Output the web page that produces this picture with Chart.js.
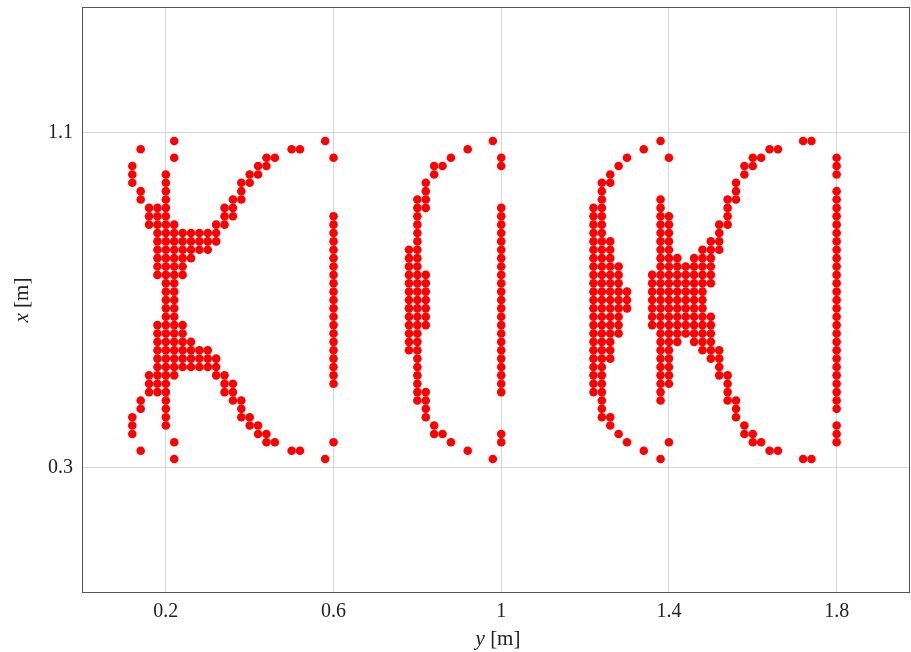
<!DOCTYPE html>
<html>
<head>
<meta charset="utf-8">
<script src="https://cdn.jsdelivr.net/npm/chart.js@4.4.1/dist/chart.umd.min.js"></script>
<style>
  html, body { margin: 0; padding: 0; background: #fff; overflow: hidden; }
  canvas { display: block; }
</style>
</head>
<body>
<canvas id="chart" width="911" height="652"></canvas>
<script>
// grid of points, values in cm: one x per column, the y values of that column
const leftX = [12, 14, 16, 18, 20, 22, 24, 26, 28, 30, 32, 34, 36, 38, 40, 42, 44, 46, 50, 52, 58, 60];
const leftY = [
    [102, 100, 98, 42, 40, 38],
    [106, 96, 94, 46, 44, 34],
    [92, 90, 88, 52, 50, 48],
    [92, 90, 88, 86, 84, 82, 80, 78, 76, 64, 62, 60, 58, 56, 54, 52, 50, 48],
    [100, 98, 96, 94, 92, 90, 88, 86, 84, 82, 80, 78, 76, 74, 72, 70, 68, 66, 64, 62, 60, 58, 56, 54, 52, 50, 48, 46, 44, 42, 40],
    [108, 104, 88, 86, 84, 82, 80, 78, 76, 74, 72, 70, 68, 66, 64, 62, 60, 58, 56, 54, 52, 36, 32],
    [86, 84, 82, 80, 78, 76, 64, 62, 60, 58, 56, 54],
    [86, 84, 82, 80, 60, 58, 56, 54],
    [86, 84, 82, 58, 56, 54],
    [86, 84, 82, 58, 56, 54],
    [88, 86, 84, 56, 54, 52],
    [92, 90, 88, 52, 50, 48],
    [94, 92, 90, 50, 48, 46],
    [98, 96, 94, 46, 44, 42],
    [100, 98, 42, 40],
    [102, 100, 40, 38],
    [104, 102, 38, 36],
    [104, 36],
    [106, 34],
    [106, 34],
    [108, 32],
    [104, 90, 88, 86, 84, 82, 80, 78, 76, 74, 72, 70, 68, 66, 64, 62, 60, 58, 56, 54, 52, 50, 36]
];

const midX = [78, 80, 82, 84, 86, 88, 92, 98, 100];
const midY = [
    [82, 80, 78, 76, 74, 72, 70, 68, 66, 64, 62, 60, 58],
    [94, 92, 90, 88, 86, 84, 82, 80, 78, 76, 74, 72, 70, 68, 66, 64, 62, 60, 58, 56, 54, 52, 50, 48, 46],
    [98, 96, 94, 92, 76, 74, 72, 70, 68, 66, 64, 48, 46, 44, 42],
    [102, 100, 40, 38],
    [102, 38],
    [104, 36],
    [106, 34],
    [108, 32],
    [104, 102, 92, 90, 88, 86, 84, 82, 80, 78, 76, 74, 72, 70, 68, 66, 64, 62, 60, 58, 56, 54, 52, 50, 48, 38, 36]
];

const rightX = [122, 124, 126, 128, 130, 134, 136, 138, 140, 142, 144, 146, 148, 150, 152, 154, 156, 158, 160, 162, 164, 166, 172, 174, 180];
const rightY = [
    [92, 90, 88, 86, 84, 82, 80, 78, 76, 74, 72, 70, 68, 66, 64, 62, 60, 58, 56, 54, 52, 50, 48],
    [98, 96, 94, 92, 90, 88, 86, 84, 82, 80, 78, 76, 74, 72, 70, 68, 66, 64, 62, 60, 58, 56, 54, 52, 50, 48, 46, 44, 42],
    [100, 98, 84, 82, 80, 78, 76, 74, 72, 70, 68, 66, 64, 62, 60, 58, 56, 42, 40],
    [102, 78, 76, 74, 72, 70, 68, 66, 64, 62, 38],
    [104, 72, 70, 68, 36],
    [106, 34],
    [76, 74, 72, 70, 68, 66, 64],
    [108, 94, 92, 90, 88, 86, 84, 82, 80, 78, 76, 74, 72, 70, 68, 66, 64, 62, 60, 58, 56, 54, 52, 50, 48, 46, 32],
    [104, 90, 88, 86, 84, 82, 80, 78, 76, 74, 72, 70, 68, 66, 64, 62, 60, 58, 56, 54, 52, 50, 36],
    [80, 78, 76, 74, 72, 70, 68, 66, 64, 62, 60],
    [78, 76, 74, 72, 70, 68, 66, 64, 62],
    [80, 78, 76, 74, 72, 70, 68, 66, 64, 62, 60],
    [82, 80, 78, 76, 74, 72, 70, 68, 66, 64, 62, 60, 58],
    [84, 82, 80, 78, 76, 74, 66, 64, 62, 60, 58, 56],
    [88, 86, 84, 82, 58, 56, 54, 52],
    [94, 92, 90, 88, 52, 50, 48, 46],
    [98, 96, 94, 46, 44, 42],
    [102, 100, 40, 38],
    [104, 102, 38, 36],
    [104, 36],
    [106, 34],
    [106, 34],
    [108, 32],
    [108, 32],
    [104, 102, 100, 96, 94, 92, 90, 88, 86, 84, 82, 80, 78, 76, 74, 72, 70, 68, 66, 64, 62, 60, 58, 56, 54, 52, 50, 48, 46, 44, 40, 38, 36]
];

const xTicks = [0.2, 0.6, 1, 1.4, 1.8];
const yTicks = [0.3, 1.1];

const toPoints = (xs, ys) => xs.flatMap((x, i) => ys[i].map(y => ({ x: x / 100, y: y / 100 })));
const points = [
    ...toPoints(leftX, leftY),
    ...toPoints(midX, midY),
    ...toPoints(rightX, rightY)
];

const serif = '"Liberation Serif", "DejaVu Serif", serif';

// frame round the plot and the two axis titles (italic variable, upright unit)
const framePlugin = {
    id: 'frame',
    afterDraw: (chart) => {
        const { ctx, chartArea: { left, top, right, bottom } } = chart;
        ctx.save();
        ctx.strokeStyle = '#555';
        ctx.lineWidth = 1;
        ctx.strokeRect(left + 0.5, top + 0.5, right - left - 1, bottom - top - 1);

        const drawTitle = (varName, unit, cx, cy, rot) => {
            ctx.save();
            ctx.translate(cx, cy);
            ctx.rotate(rot);
            ctx.fillStyle = '#222';
            ctx.textBaseline = 'middle';
            ctx.font = 'italic 21px ' + serif;
            const w1 = ctx.measureText(varName).width;
            ctx.font = '21px ' + serif;
            const w2 = ctx.measureText(unit).width;
            let x = -(w1 + w2) / 2;
            ctx.font = 'italic 21px ' + serif;
            ctx.fillText(varName, x, 0);
            ctx.font = '21px ' + serif;
            ctx.fillText(unit, x + w1, 0);
            ctx.restore();
        };
        drawTitle('y', ' [m]', (left + right) / 2 + 2, 639, 0);
        drawTitle('x', ' [m]', 22, (top + bottom) / 2, -Math.PI / 2);
        ctx.restore();
    }
};

const noOverflow = (scale) => {
    scale.paddingTop = 0;
    scale.paddingBottom = 0;
    scale.paddingLeft = 0;
    scale.paddingRight = 0;
};

new Chart(document.getElementById('chart'), {
    type: 'scatter',
    data: {
        datasets: [{
            data: points,
            backgroundColor: '#ff0000',
            borderWidth: 0,
            pointRadius: 4.3,
            pointHoverRadius: 4.3
        }]
    },
    options: {
        responsive: false,
        animation: false,
        devicePixelRatio: 1,
        layout: { autoPadding: false, padding: { left: 0, right: 1, top: 7, bottom: 0 } },
        plugins: {
            legend: { display: false },
            tooltip: { enabled: false }
        },
        scales: {
            x: {
                type: 'linear',
                min: 0,
                max: 1.975,
                afterBuildTicks: (scale) => { scale.ticks = xTicks.map(v => ({ value: v })); },
                afterFit: (scale) => { scale.height = 59; noOverflow(scale); },
                grid: { color: '#d6d6d6', drawTicks: false },
                border: { display: false },
                ticks: {
                    padding: 7,
                    color: '#222',
                    font: { family: serif, size: 20 },
                    callback: v => String(v)
                }
            },
            y: {
                type: 'linear',
                min: 0,
                max: 1.4,
                afterBuildTicks: (scale) => { scale.ticks = yTicks.map(v => ({ value: v })); },
                afterFit: (scale) => { scale.width = 82; noOverflow(scale); },
                grid: { color: '#d6d6d6', drawTicks: false },
                border: { display: false },
                ticks: {
                    padding: 9,
                    color: '#222',
                    font: { family: serif, size: 20 },
                    callback: v => String(v)
                }
            }
        }
    },
    plugins: [framePlugin]
});
</script>
</body>
</html>
